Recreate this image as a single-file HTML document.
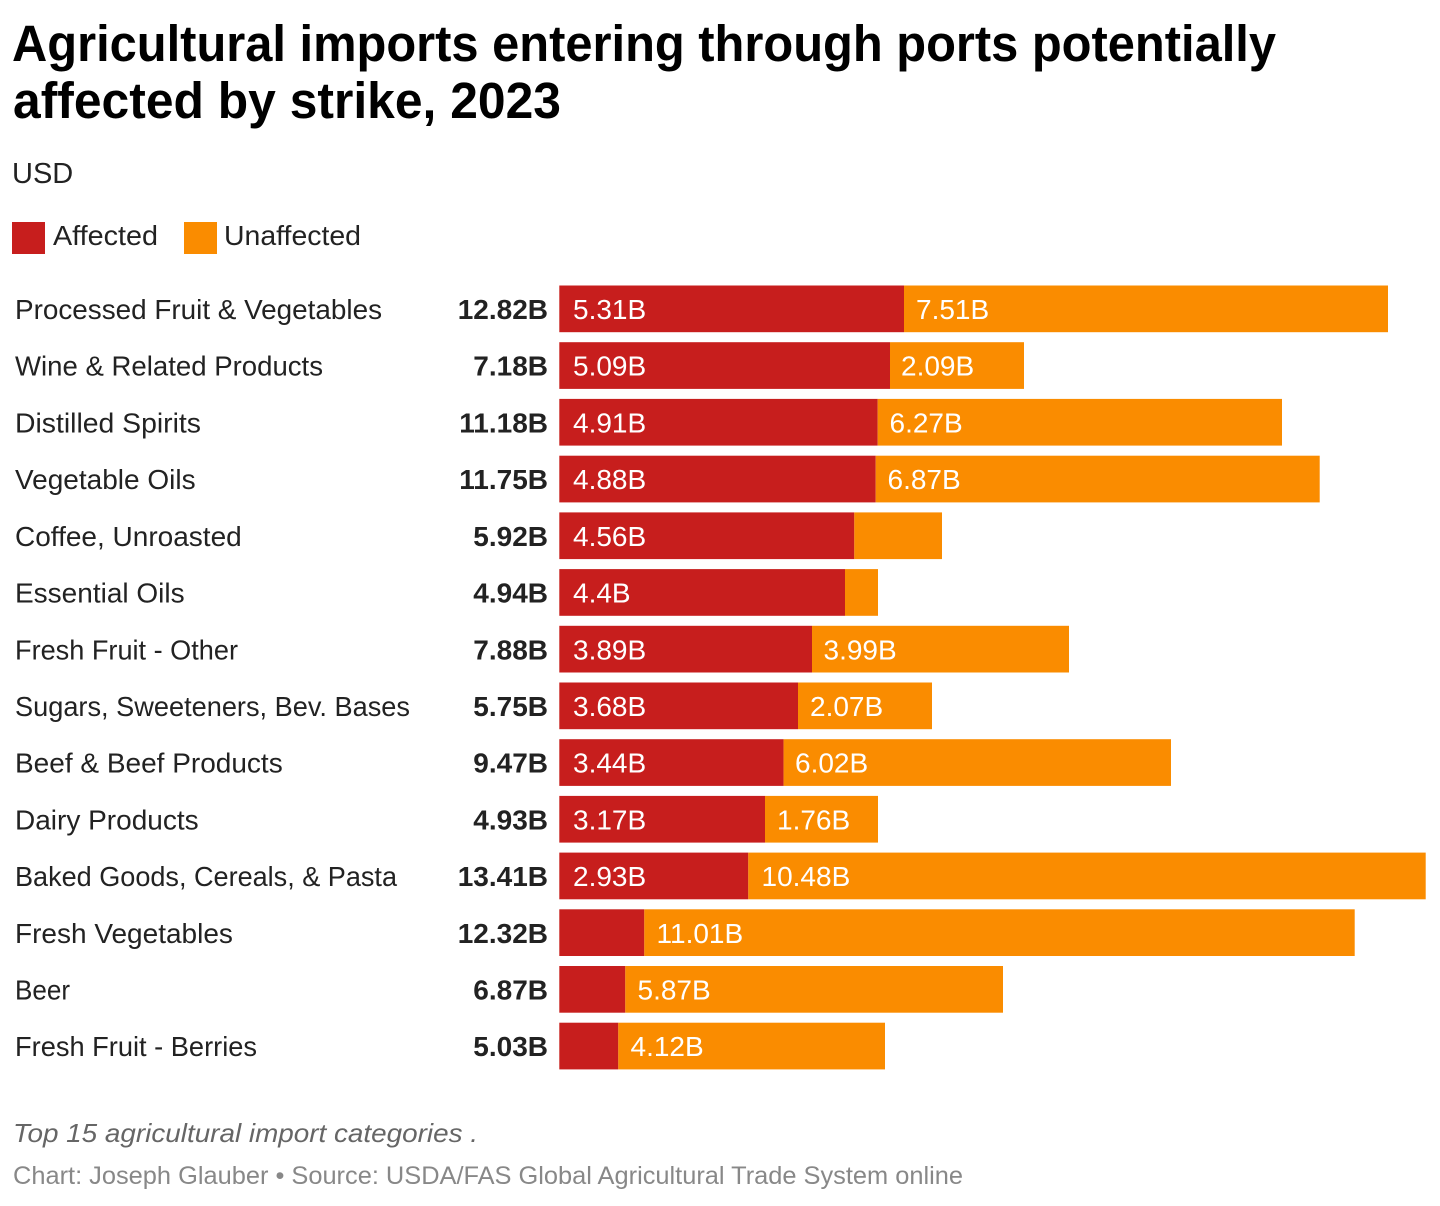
<!DOCTYPE html>
<html>
<head>
<meta charset="utf-8">
<style>
  html, body { margin: 0; padding: 0; background: #fff; }
  body { width: 1440px; height: 1206px; overflow: hidden; }
  svg { display: block; }
  text { font-family: "Liberation Sans", Arial, sans-serif; }
</style>
</head>
<body>
<svg width="1440" height="1206" viewBox="0 0 1440 1206" xmlns="http://www.w3.org/2000/svg">
  <rect x="0" y="0" width="1440" height="1206" fill="#fff"/>

  <!-- Title -->
  <text x="12" y="61" font-size="51" font-weight="bold" fill="#000" textLength="1264" lengthAdjust="spacingAndGlyphs">Agricultural imports entering through ports potentially</text>
  <text x="13" y="118" font-size="51" font-weight="bold" fill="#000" textLength="548" lengthAdjust="spacingAndGlyphs">affected by strike, 2023</text>

  <!-- Subtitle -->
  <text x="12" y="183" font-size="29" fill="#222">USD</text>

  <!-- Legend -->
  <rect x="12" y="222" width="33" height="32" fill="#c71e1d"/>
  <text x="53" y="245" font-size="28" fill="#222" textLength="105" lengthAdjust="spacingAndGlyphs">Affected</text>
  <rect x="184" y="222" width="33" height="32" fill="#fa8c00"/>
  <text x="224" y="245" font-size="28" fill="#222" textLength="137" lengthAdjust="spacingAndGlyphs">Unaffected</text>

  <!-- Rows -->
  <g font-size="28">
    <!-- Row 0 -->
    <rect x="559.3" y="285.5" width="344.7" height="46.7" fill="#c71e1d"/>
    <rect x="904" y="285.5" width="484" height="46.7" fill="#fa8c00"/>
    <text x="15" y="319" fill="#222" textLength="367" lengthAdjust="spacingAndGlyphs">Processed Fruit &amp; Vegetables</text>
    <text x="548" y="319" fill="#222" font-weight="bold" text-anchor="end">12.82B</text>
    <text x="573" y="319" fill="#fff">5.31B</text>
    <text x="916" y="319" fill="#fff">7.51B</text>

    <!-- Row 1 -->
    <rect x="559.3" y="342.2" width="330.7" height="46.7" fill="#c71e1d"/>
    <rect x="890" y="342.2" width="134" height="46.7" fill="#fa8c00"/>
    <text x="15" y="375.7" fill="#222" textLength="308" lengthAdjust="spacingAndGlyphs">Wine &amp; Related Products</text>
    <text x="548" y="375.7" fill="#222" font-weight="bold" text-anchor="end">7.18B</text>
    <text x="573" y="375.7" fill="#fff">5.09B</text>
    <text x="901" y="375.7" fill="#fff">2.09B</text>

    <!-- Row 2 -->
    <rect x="559.3" y="398.9" width="318.4" height="46.7" fill="#c71e1d"/>
    <rect x="877.7" y="398.9" width="404.3" height="46.7" fill="#fa8c00"/>
    <text x="15" y="432.4" fill="#222" textLength="186" lengthAdjust="spacingAndGlyphs">Distilled Spirits</text>
    <text x="548" y="432.4" fill="#222" font-weight="bold" text-anchor="end">11.18B</text>
    <text x="573" y="432.4" fill="#fff">4.91B</text>
    <text x="889.5" y="432.4" fill="#fff">6.27B</text>

    <!-- Row 3 -->
    <rect x="559.3" y="455.7" width="316.4" height="46.7" fill="#c71e1d"/>
    <rect x="875.7" y="455.7" width="444" height="46.7" fill="#fa8c00"/>
    <text x="15" y="489.2" fill="#222">Vegetable Oils</text>
    <text x="548" y="489.2" fill="#222" font-weight="bold" text-anchor="end">11.75B</text>
    <text x="573" y="489.2" fill="#fff">4.88B</text>
    <text x="887.5" y="489.2" fill="#fff">6.87B</text>

    <!-- Row 4 -->
    <rect x="559.3" y="512.4" width="295" height="46.7" fill="#c71e1d"/>
    <rect x="854.3" y="512.4" width="87.7" height="46.7" fill="#fa8c00"/>
    <text x="15" y="545.9" fill="#222">Coffee, Unroasted</text>
    <text x="548" y="545.9" fill="#222" font-weight="bold" text-anchor="end">5.92B</text>
    <text x="573" y="545.9" fill="#fff">4.56B</text>

    <!-- Row 5 -->
    <rect x="559.3" y="569.1" width="285.7" height="46.7" fill="#c71e1d"/>
    <rect x="845" y="569.1" width="33" height="46.7" fill="#fa8c00"/>
    <text x="15" y="602.6" fill="#222">Essential Oils</text>
    <text x="548" y="602.6" fill="#222" font-weight="bold" text-anchor="end">4.94B</text>
    <text x="573" y="602.6" fill="#fff">4.4B</text>

    <!-- Row 6 -->
    <rect x="559.3" y="625.8" width="252.7" height="46.7" fill="#c71e1d"/>
    <rect x="812" y="625.8" width="257" height="46.7" fill="#fa8c00"/>
    <text x="15" y="659.3" fill="#222" textLength="223" lengthAdjust="spacingAndGlyphs">Fresh Fruit - Other</text>
    <text x="548" y="659.3" fill="#222" font-weight="bold" text-anchor="end">7.88B</text>
    <text x="573" y="659.3" fill="#fff">3.89B</text>
    <text x="823.5" y="659.3" fill="#fff">3.99B</text>

    <!-- Row 7 -->
    <rect x="559.3" y="682.5" width="238.7" height="46.7" fill="#c71e1d"/>
    <rect x="798" y="682.5" width="134" height="46.7" fill="#fa8c00"/>
    <text x="15" y="716" fill="#222" textLength="395" lengthAdjust="spacingAndGlyphs">Sugars, Sweeteners, Bev. Bases</text>
    <text x="548" y="716" fill="#222" font-weight="bold" text-anchor="end">5.75B</text>
    <text x="573" y="716" fill="#fff">3.68B</text>
    <text x="810" y="716" fill="#fff">2.07B</text>

    <!-- Row 8 -->
    <rect x="559.3" y="739.2" width="224.3" height="46.7" fill="#c71e1d"/>
    <rect x="783.6" y="739.2" width="387.4" height="46.7" fill="#fa8c00"/>
    <text x="15" y="772.7" fill="#222">Beef &amp; Beef Products</text>
    <text x="548" y="772.7" fill="#222" font-weight="bold" text-anchor="end">9.47B</text>
    <text x="573" y="772.7" fill="#fff">3.44B</text>
    <text x="795" y="772.7" fill="#fff">6.02B</text>

    <!-- Row 9 -->
    <rect x="559.3" y="795.9" width="205.7" height="46.7" fill="#c71e1d"/>
    <rect x="765" y="795.9" width="113" height="46.7" fill="#fa8c00"/>
    <text x="15" y="829.4" fill="#222">Dairy Products</text>
    <text x="548" y="829.4" fill="#222" font-weight="bold" text-anchor="end">4.93B</text>
    <text x="573" y="829.4" fill="#fff">3.17B</text>
    <text x="777" y="829.4" fill="#fff">1.76B</text>

    <!-- Row 10 -->
    <rect x="559.3" y="852.6" width="189" height="46.7" fill="#c71e1d"/>
    <rect x="748.3" y="852.6" width="677.4" height="46.7" fill="#fa8c00"/>
    <text x="15" y="886.1" fill="#222" textLength="382" lengthAdjust="spacingAndGlyphs">Baked Goods, Cereals, &amp; Pasta</text>
    <text x="548" y="886.1" fill="#222" font-weight="bold" text-anchor="end">13.41B</text>
    <text x="573" y="886.1" fill="#fff">2.93B</text>
    <text x="761.5" y="886.1" fill="#fff">10.48B</text>

    <!-- Row 11 -->
    <rect x="559.3" y="909.3" width="85" height="46.7" fill="#c71e1d"/>
    <rect x="644.3" y="909.3" width="710.4" height="46.7" fill="#fa8c00"/>
    <text x="15" y="942.8" fill="#222">Fresh Vegetables</text>
    <text x="548" y="942.8" fill="#222" font-weight="bold" text-anchor="end">12.32B</text>
    <text x="656.5" y="942.8" fill="#fff">11.01B</text>

    <!-- Row 12 -->
    <rect x="559.3" y="966" width="66" height="46.7" fill="#c71e1d"/>
    <rect x="625.3" y="966" width="377.7" height="46.7" fill="#fa8c00"/>
    <text x="15" y="999.5" fill="#222" textLength="55" lengthAdjust="spacingAndGlyphs">Beer</text>
    <text x="548" y="999.5" fill="#222" font-weight="bold" text-anchor="end">6.87B</text>
    <text x="637.5" y="999.5" fill="#fff">5.87B</text>

    <!-- Row 13 -->
    <rect x="559.3" y="1022.7" width="59" height="46.7" fill="#c71e1d"/>
    <rect x="618.3" y="1022.7" width="266.7" height="46.7" fill="#fa8c00"/>
    <text x="15" y="1056.2" fill="#222" textLength="242" lengthAdjust="spacingAndGlyphs">Fresh Fruit - Berries</text>
    <text x="548" y="1056.2" fill="#222" font-weight="bold" text-anchor="end">5.03B</text>
    <text x="630.5" y="1056.2" fill="#fff">4.12B</text>
  </g>

  <!-- Footer -->
  <text x="13" y="1142" font-size="26" font-style="italic" fill="#666" textLength="465" lengthAdjust="spacingAndGlyphs">Top 15 agricultural import categories .</text>
  <text x="13" y="1184" font-size="25" fill="#888" textLength="950" lengthAdjust="spacingAndGlyphs">Chart: Joseph Glauber • Source: USDA/FAS Global Agricultural Trade System online</text>
</svg>
</body>
</html>
